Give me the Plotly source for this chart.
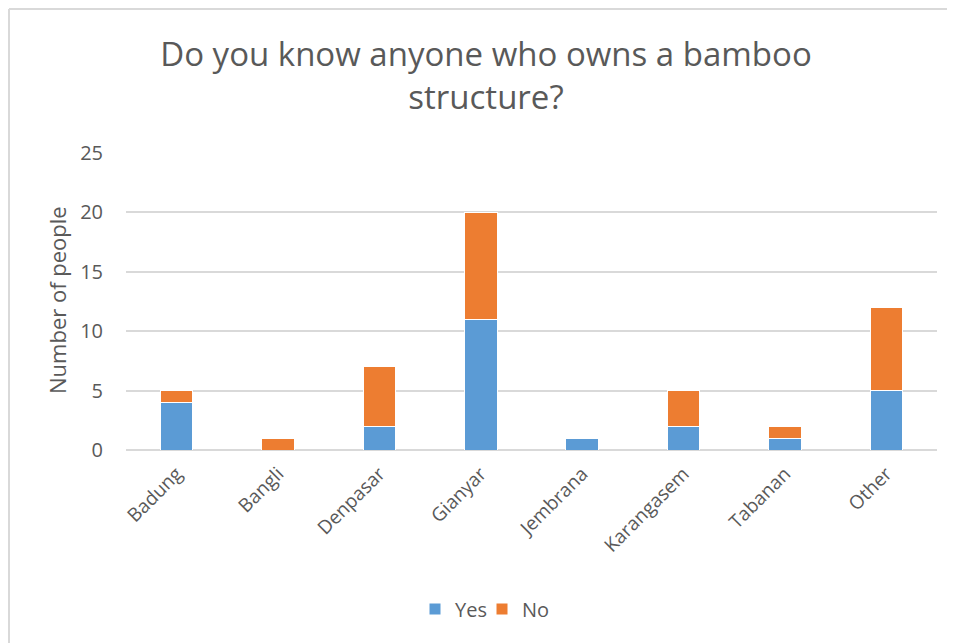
import plotly.graph_objects as go

categories = ["Badung", "Bangli", "Denpasar", "Gianyar", "Jembrana", "Karangasem", "Tabanan", "Other"]
yes_values = [4, 0, 2, 11, 1, 2, 1, 5]
no_values = [1, 1, 5, 9, 0, 3, 1, 7]
y_ticks = [0, 5, 10, 15, 20, 25]

OFF = 8  # page body margin
W, H = 955, 643
L = 126 - OFF
T = 153 - OFF
R = W - (937 - OFF)
B = H - (450 - OFF)
pw, ph = W - L - R, H - T - B
FONT = "'Open Sans', sans-serif"
GRAY = "#595959"

fig = go.Figure()
fig.add_trace(go.Bar(name="Yes", x=categories, y=yes_values, marker=dict(color="#5B9BD5", line=dict(color="white", width=1))))
fig.add_trace(go.Bar(name="No", x=categories, y=no_values, marker=dict(color="#ED7D31", line=dict(color="white", width=1))))

def px_to_paper_x(px):
    return (px - OFF - L) / pw

def py_to_paper_y(py):
    return (H - B - (py - OFF)) / ph

fig.update_layout(
    barmode="stack",
    bargap=0.68,
    width=W, height=H,
    margin=dict(l=L, r=R, t=T, b=B),
    paper_bgcolor="white", plot_bgcolor="white",
    font=dict(family=FONT, color=GRAY, size=18),
    title=dict(text="Do you know anyone who owns a bamboo<br>structure?", x=(486 - OFF) / W, xanchor="center",
               y=1 - (66 - OFF) / H, yanchor="middle", font=dict(size=33, color=GRAY, family=FONT)),
    xaxis=dict(tickangle=-45, showgrid=False, showline=False, ticks="", ticklabelstandoff=8,
               tickfont=dict(size=19, color=GRAY)),
    yaxis=dict(range=[0, 25], tickvals=y_ticks, gridcolor="#D9D9D9", gridwidth=1.5, zeroline=True,
               zerolinecolor="#D9D9D9", zerolinewidth=1.5, showline=False, ticks="",
               ticklabelstandoff=22, tickfont=dict(size=20, color=GRAY)),
    legend=dict(orientation="h", xref="container", yref="container", x=(482 - OFF) / W, xanchor="center",
                y=1 - (609 - OFF) / H, yanchor="middle", font=dict(size=20, color=GRAY), traceorder="normal",
                itemwidth=30, entrywidth=22, entrywidthmode="pixels"),
    showlegend=True,
)

fig.add_annotation(text="Number of people", textangle=-90, xref="paper", yref="paper",
                   x=px_to_paper_x(57), y=py_to_paper_y(300), xanchor="center", yanchor="middle",
                   showarrow=False, font=dict(size=22, color=GRAY, family=FONT))

# chart area border (top and left edges visible)
fig.add_shape(type="line", xref="paper", yref="paper", x0=px_to_paper_x(OFF + 1), x1=px_to_paper_x(W + 20),
              y0=py_to_paper_y(9), y1=py_to_paper_y(9), line=dict(color="#D9D9D9", width=2))
fig.add_shape(type="line", xref="paper", yref="paper", x0=px_to_paper_x(OFF + 1), x1=px_to_paper_x(OFF + 1),
              y0=py_to_paper_y(9), y1=py_to_paper_y(H + 20), line=dict(color="#D9D9D9", width=2))

fig.write_html("out.html")
